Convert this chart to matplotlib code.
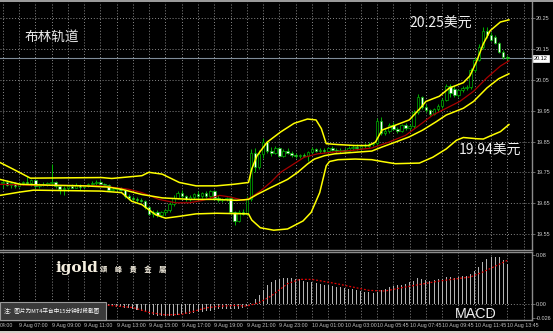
import matplotlib
matplotlib.use('Agg')
import matplotlib.pyplot as plt
import matplotlib.transforms as mtransforms
from matplotlib.patches import Rectangle
import numpy as np

plt.rcParams['font.family'] = ['Noto Sans CJK SC', 'DejaVu Sans']

# 15 minute bars, index 0 = 9 Aug 07:00
bars = np.arange(-4, 121)
opens = [19.714, 19.720, 19.708, 19.714, 19.704, 19.714, 19.718, 19.716, 19.724, 19.704,
         19.712, 19.708, 19.714, 19.720, 19.704, 19.696, 19.700, 19.704, 19.700, 19.708,
         19.702, 19.706, 19.712, 19.716, 19.720, 19.712, 19.708, 19.694, 19.696, 19.698,
         19.692, 19.672, 19.666, 19.664, 19.660, 19.656, 19.638, 19.616, 19.622, 19.612,
         19.620, 19.628, 19.648, 19.668, 19.682, 19.672, 19.662, 19.670, 19.678, 19.672,
         19.682, 19.674, 19.688, 19.666, 19.660, 19.662, 19.666, 19.620, 19.592, 19.622,
         19.614, 19.664, 19.812, 19.768, 19.810, 19.848, 19.818, 19.812, 19.828, 19.804,
         19.818, 19.814, 19.806, 19.802, 19.806, 19.804, 19.816, 19.826, 19.820, 19.824,
         19.818, 19.828, 19.822, 19.818, 19.824, 19.820, 19.830, 19.832, 19.828, 19.836,
         19.834, 19.842, 19.846, 19.918, 19.878, 19.884, 19.904, 19.890, 19.884, 19.902,
         19.894, 19.900, 19.946, 19.994, 19.962, 19.952, 19.940, 19.956, 19.966, 19.986,
         20.030, 20.020, 20.002, 20.016, 20.024, 20.028, 20.082, 20.116, 20.158, 20.208,
         20.196, 20.190, 20.170, 20.140, 20.124]
highs = [19.726, 19.724, 19.718, 19.718, 19.718, 19.722, 19.738, 19.728, 19.728, 19.716,
         19.720, 19.718, 19.776, 19.722, 19.708, 19.706, 19.708, 19.712, 19.714, 19.712,
         19.710, 19.716, 19.722, 19.724, 19.724, 19.716, 19.712, 19.702, 19.704, 19.702,
         19.696, 19.678, 19.674, 19.670, 19.666, 19.660, 19.642, 19.628, 19.626, 19.624,
         19.632, 19.654, 19.676, 19.690, 19.692, 19.676, 19.676, 19.682, 19.688, 19.686,
         19.690, 19.692, 19.692, 19.676, 19.668, 19.670, 19.672, 19.624, 19.628, 19.632,
         19.672, 19.826, 19.830, 19.822, 19.860, 19.852, 19.832, 19.834, 19.832, 19.826,
         19.828, 19.818, 19.812, 19.810, 19.814, 19.820, 19.832, 19.830, 19.828, 19.828,
         19.832, 19.834, 19.828, 19.828, 19.830, 19.834, 19.838, 19.842, 19.840, 19.844,
         19.848, 19.850, 19.926, 19.930, 19.890, 19.910, 19.914, 19.898, 19.908, 19.910,
         19.906, 19.952, 20.004, 19.998, 19.972, 19.956, 19.960, 19.972, 19.990, 20.038,
         20.036, 20.030, 20.022, 20.030, 20.034, 20.090, 20.124, 20.166, 20.222, 20.222,
         20.204, 20.196, 20.174, 20.146, 20.130]
lows = [19.700, 19.704, 19.700, 19.700, 19.702, 19.708, 19.712, 19.706, 19.700, 19.700,
        19.706, 19.704, 19.708, 19.700, 19.680, 19.676, 19.694, 19.698, 19.698, 19.694,
        19.698, 19.702, 19.706, 19.710, 19.708, 19.704, 19.690, 19.688, 19.690, 19.688,
        19.668, 19.660, 19.658, 19.654, 19.652, 19.632, 19.612, 19.606, 19.604, 19.606,
        19.610, 19.622, 19.642, 19.662, 19.668, 19.656, 19.656, 19.662, 19.664, 19.666,
        19.668, 19.668, 19.660, 19.652, 19.654, 19.656, 19.616, 19.580, 19.588, 19.610,
        19.610, 19.658, 19.752, 19.762, 19.798, 19.812, 19.804, 19.808, 19.800, 19.800,
        19.808, 19.800, 19.798, 19.798, 19.800, 19.788, 19.812, 19.816, 19.814, 19.814,
        19.816, 19.818, 19.812, 19.814, 19.814, 19.818, 19.822, 19.824, 19.822, 19.828,
        19.830, 19.836, 19.840, 19.872, 19.872, 19.878, 19.886, 19.878, 19.880, 19.886,
        19.886, 19.894, 19.940, 19.956, 19.946, 19.934, 19.936, 19.946, 19.960, 19.982,
        19.994, 19.996, 19.996, 20.010, 20.016, 20.022, 20.076, 20.110, 20.150, 20.186,
        20.176, 20.166, 20.136, 20.118, 20.114]
closes = [19.720, 19.708, 19.714, 19.704, 19.714, 19.718, 19.716, 19.724, 19.704, 19.712,
          19.708, 19.714, 19.720, 19.704, 19.696, 19.700, 19.704, 19.700, 19.708, 19.702,
          19.706, 19.712, 19.716, 19.720, 19.712, 19.708, 19.694, 19.696, 19.698, 19.692,
          19.672, 19.666, 19.664, 19.660, 19.656, 19.638, 19.616, 19.622, 19.612, 19.620,
          19.628, 19.648, 19.668, 19.682, 19.672, 19.662, 19.670, 19.678, 19.672, 19.682,
          19.674, 19.688, 19.666, 19.660, 19.662, 19.666, 19.620, 19.592, 19.622, 19.614,
          19.664, 19.812, 19.768, 19.810, 19.848, 19.818, 19.812, 19.828, 19.804, 19.818,
          19.814, 19.806, 19.802, 19.806, 19.804, 19.816, 19.826, 19.820, 19.824, 19.818,
          19.828, 19.822, 19.818, 19.824, 19.820, 19.830, 19.832, 19.828, 19.836, 19.834,
          19.842, 19.846, 19.918, 19.878, 19.884, 19.904, 19.890, 19.884, 19.902, 19.894,
          19.900, 19.946, 19.994, 19.962, 19.952, 19.940, 19.956, 19.966, 19.986, 20.030,
          20.008, 20.002, 20.016, 20.024, 20.028, 20.082, 20.116, 20.158, 20.208, 20.196,
          20.180, 20.170, 20.140, 20.124, 20.120]

# bollinger lines (bar index, price)
upper_x = [-4.7, -1.4, 2.8, 20.3, 22.8, 30.2, 31.9, 35.2, 39.4, 43.5, 48.5, 52.7, 56.4, 57.2,
           58.5, 61.0, 64.3, 67.6, 70.9, 73.0, 74.3, 75.5, 78.4, 82.6, 85.9, 87.6, 89.2, 92.5,
           95.9, 98.4, 100.0, 103.3, 105.8, 109.2, 110.8, 112.5, 114.1, 115.8, 118.3, 120.4]
upper_p = [19.782, 19.760, 19.731, 19.733, 19.730, 19.739, 19.750, 19.744, 19.717, 19.706,
           19.706, 19.711, 19.717, 19.761, 19.804, 19.848, 19.881, 19.909, 19.923, 19.920,
           19.892, 19.843, 19.840, 19.837, 19.837, 19.848, 19.887, 19.903, 19.920, 19.955,
           19.980, 19.997, 20.024, 20.041, 20.063, 20.112, 20.167, 20.210, 20.238, 20.245]
mid_x = [-4.7, 0.3, 7.8, 16.1, 21.9, 25.2, 30.2, 35.2, 41.9, 48.5, 53.5, 56.4, 58.5, 61.8,
         66.0, 68.5, 70.9, 72.6, 75.1, 77.6, 82.6, 86.7, 89.2, 92.5, 95.9, 99.2, 102.5,
         105.0, 109.2, 111.7, 115.0, 117.9, 120.4]
mid_p = [19.727, 19.711, 19.708, 19.706, 19.702, 19.695, 19.678, 19.667, 19.662, 19.662,
         19.659, 19.662, 19.678, 19.700, 19.727, 19.750, 19.777, 19.793, 19.804, 19.810,
         19.815, 19.819, 19.832, 19.848, 19.865, 19.887, 19.914, 19.936, 19.958, 19.980,
         20.024, 20.054, 20.070]
ma_x = [-4.7, 3.6, 20.3, 26.9, 30.2, 34.4, 38.5, 41.9, 45.2, 49.3, 51.8, 55.2, 56.8, 59.3,
        61.8, 64.3, 66.8, 70.1, 73.4, 76.8, 81.7, 86.7, 90.9, 95.0, 98.4, 101.7, 105.0,
        108.3, 111.7, 115.0, 118.3, 120.4]
ma_p = [19.711, 19.708, 19.706, 19.695, 19.684, 19.662, 19.651, 19.651, 19.659, 19.675,
        19.670, 19.659, 19.667, 19.689, 19.717, 19.750, 19.771, 19.799, 19.810, 19.815,
        19.821, 19.829, 19.848, 19.870, 19.903, 19.936, 19.958, 19.980, 20.013, 20.057,
        20.095, 20.112]
lower_x = [-4.7, 0.3, 3.6, 20.3, 25.2, 27.7, 30.2, 33.6, 36.0, 39.4, 43.5, 48.5, 56.4, 57.2,
           59.3, 62.6, 66.0, 69.8, 71.8, 73.9, 75.5, 76.3, 78.4, 82.6, 86.7, 89.2, 92.5,
           98.4, 101.7, 105.0, 107.5, 109.2, 112.5, 114.1, 115.8, 118.3, 120.4]
lower_p = [19.675, 19.686, 19.692, 19.689, 19.684, 19.656, 19.645, 19.612, 19.601, 19.607,
           19.615, 19.617, 19.615, 19.595, 19.570, 19.562, 19.566, 19.592, 19.620, 19.684,
           19.771, 19.785, 19.791, 19.793, 19.791, 19.785, 19.778, 19.780, 19.799, 19.826,
           19.854, 19.863, 19.859, 19.858, 19.868, 19.882, 19.905]

macd_hist = [-0.004, -0.004, -0.004, -0.003, -0.003, -0.002, -0.001, -0.001, -0.001, -0.001,
             -0.001, 0.000, 0.001, 0.000, -0.001, -0.002, -0.002, -0.002, -0.002, -0.002,
             -0.002, -0.001, -0.001, -0.001, -0.001, -0.002, -0.003, -0.003, -0.004, -0.004,
             -0.005, -0.006, -0.007, -0.009, -0.011, -0.013, -0.015, -0.017, -0.018, -0.019,
             -0.019, -0.019, -0.018, -0.017, -0.016, -0.016, -0.015, -0.014, -0.013, -0.012,
             -0.011, -0.010, -0.009, -0.008, -0.008, -0.007, -0.007, -0.008, -0.007, -0.005,
             -0.002, 0.003, 0.009, 0.016, 0.024, 0.032, 0.037, 0.040, 0.042, 0.043,
             0.043, 0.043, 0.042, 0.041, 0.039, 0.037, 0.036, 0.035, 0.033, 0.032,
             0.031, 0.030, 0.029, 0.028, 0.027, 0.026, 0.025, 0.024, 0.022, 0.021,
             0.020, 0.019, 0.020, 0.024, 0.026, 0.028, 0.030, 0.031, 0.032, 0.034,
             0.036, 0.039, 0.043, 0.042, 0.040, 0.039, 0.040, 0.041, 0.042, 0.045,
             0.045, 0.044, 0.045, 0.046, 0.047, 0.050, 0.055, 0.062, 0.070, 0.075,
             0.078, 0.078, 0.077, 0.073, 0.066]
signal_x = [-4, 10, 21.5, 28, 32, 36, 40, 43, 46, 49, 53, 56, 59, 62, 64, 66, 69, 72, 78, 86,
            90, 94.5, 103, 111, 114, 117.5, 120]
signal_v = [-0.003, -0.001, -0.001, -0.005, -0.013, -0.017, -0.016, -0.011, -0.0055, -0.003,
            -0.0016, -0.0027, 0.003, 0.014, 0.024, 0.034, 0.041, 0.041, 0.034, 0.023,
            0.022, 0.028, 0.038, 0.045, 0.053, 0.064, 0.072]

price_ticks = [19.55, 19.65, 19.75, 19.85, 19.95, 20.05, 20.15, 20.25]
macd_ticks = [0.08, 0.0, -0.0225]
macd_tick_labels = ['0.08', '0.00', '-0.026']
# first label is only the visible tail of "9 Aug 04:00" at the left edge
time_pos = [-4.67] + list(range(0, 121, 8))
time_labels = ['04:00', '9 Aug 07:00', '9 Aug 09:00', '9 Aug 11:00', '9 Aug 13:00',
               '9 Aug 15:00', '9 Aug 17:00', '9 Aug 19:00', '9 Aug 21:00', '9 Aug 23:00',
               '10 Aug 01:00', '10 Aug 03:00', '10 Aug 05:45', '10 Aug 07:45', '10 Aug 09:45',
               '10 Aug 11:45', '10 Aug 13:45']

W, H = 553.0, 333.0
green = '#00b400'
gridc = '#8a8a8a'
framec = '#8c8c8c'

fig = plt.figure(figsize=(W / 100, H / 100), dpi=100, facecolor='black')
ax = fig.add_axes([0, 1 - 250 / H, 532 / W, 248 / H])
mx = fig.add_axes([0, 1 - 320.4 / H, 532 / W, (320.4 - 251.5) / H])

for a in (ax, mx):
    a.set_facecolor('black')
    a.set_xlim(-4.67, 126.07)
    for s in a.spines.values():
        s.set_color(framec)
        s.set_linewidth(1)
    a.spines['left'].set_visible(False)
    a.set_xticks(np.arange(-4, 127, 4))
    a.tick_params(axis='x', length=0, labelbottom=False)
    a.xaxis.grid(True, color=gridc, linestyle=(0, (1, 2)), linewidth=0.7)
    a.yaxis.tick_right()
    a.tick_params(axis='y', colors=framec, labelcolor='#cfcfcf', labelsize=4,
                  length=2, width=0.5, pad=1)
    a.set_axisbelow(True)

# price panel
ax.set_ylim(19.4977, 20.303)
ax.set_yticks(price_ticks)
ax.set_yticklabels([f'{t:.2f}' for t in price_ticks])
ax.yaxis.grid(True, color=gridc, linestyle=(0, (1, 2)), linewidth=0.7)
ax.spines['top'].set_visible(False)
plt.setp(ax.get_yticklabels(), family='Liberation Sans')

o = np.array(opens)
c = np.array(closes)
up = c >= o
ax.vlines(bars, lows, highs, color=green, linewidth=0.7, zorder=3)
ax.bar(bars, np.maximum(np.abs(c - o), 0.0015), bottom=np.minimum(o, c), width=0.62,
       color=np.where(up, 'black', 'white'), edgecolor=green, linewidth=0.5, zorder=4)

ax.plot(ma_x, ma_p, color='#a80000', linewidth=0.9, zorder=5)
ax.plot(upper_x, upper_p, color='#ffff00', linewidth=1.1, zorder=6)
ax.plot(mid_x, mid_p, color='#ffff00', linewidth=1.1, zorder=6)
ax.plot(lower_x, lower_p, color='#ffff00', linewidth=1.1, zorder=6)
ax.axhline(closes[-1], color='#7f8c99', linewidth=0.8, zorder=2)
ax.text(1.004, closes[-1], f'{closes[-1]:.2f}',
        transform=mtransforms.blended_transform_factory(ax.transAxes, ax.transData),
        ha='left', va='center', fontsize=4, color='black', family='Liberation Sans', clip_on=False,
        bbox=dict(boxstyle='square,pad=0.2', facecolor='white', edgecolor='white', linewidth=0.5))

# macd panel
mx.set_ylim(-0.026, 0.0865)
mx.set_yticks(macd_ticks)
mx.set_yticklabels(macd_tick_labels)
plt.setp(mx.get_yticklabels(), family='Liberation Sans')
mx.axhline(0, color=gridc, linestyle=(0, (1, 2)), linewidth=0.7, zorder=1)
mx.bar(bars, macd_hist, width=0.25, color='#b4b4b4', zorder=3)
mx.plot(signal_x, signal_v, color='#e00000', linestyle=(0, (1.5, 1.5)), linewidth=0.9, zorder=4)

tr = mtransforms.blended_transform_factory(mx.transData, mx.transAxes)
for pos, lab in zip(time_pos, time_labels):
    mx.text(pos, -0.068, lab, transform=tr, ha='left', va='center', fontsize=3.8,
            color='#c0c0c0', family='Liberation Sans', clip_on=False)

# frame strips
fig.add_artist(Rectangle((0, 1 - 2 / H), 1, 2 / H, transform=fig.transFigure,
                         facecolor='#9a9a9a', edgecolor='none'))
fig.add_artist(Rectangle((0, 0), 1, 2 / H, transform=fig.transFigure,
                         facecolor='#d4d0c8', edgecolor='none'))

# annotations
fig.text(25 / W, 1 - 37 / H, '布林轨道', fontsize=9.8, color='#e8e8e8', ha='left', va='center')
fig.text(409 / W, 1 - 24 / H, '20.25美元', fontsize=10, color='#f0f0f0', ha='left', va='center')
fig.text(459 / W, 1 - 151 / H, '19.94美元', fontsize=10, color='#f0f0f0', ha='left', va='center')
fig.text(455 / W, 1 - 314 / H, 'MACD', fontsize=10.3, color='#f0f0f0', ha='left', va='center',
         family='Liberation Sans')
fig.text(55 / W, 1 - 268 / H, 'igold', fontsize=11, color='#f5efe0', ha='left', va='center',
         family='DejaVu Serif', fontweight='bold')
fig.text(100 / W, 1 - 269 / H, '頌\u3000峰\u3000貴\u3000金\u3000屬', fontsize=5.3, color='#f5efe0',
         ha='left', va='center', family=['Noto Sans CJK TC', 'DejaVu Sans'], fontweight='bold')

fig.add_artist(Rectangle((0, 1 - 320 / H), 106 / W, 18 / H, transform=fig.transFigure,
                         facecolor='#3a3a3a', edgecolor='#9a9a9a', linewidth=0.8, zorder=10))
fig.text(4 / W, 1 - 311 / H, '注：图片为MT4平台中15分钟时段截图', fontsize=4.1, color='white',
         ha='left', va='center', zorder=11)

fig.savefig('out.png', dpi=100, facecolor='black')
